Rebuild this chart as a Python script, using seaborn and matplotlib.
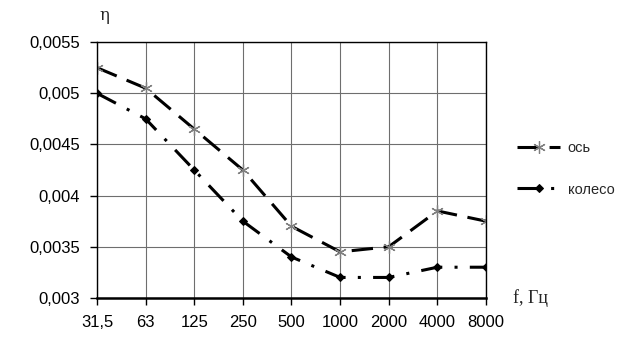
import numpy as np
import pandas as pd
import matplotlib
matplotlib.use("Agg")
import matplotlib.pyplot as plt
import seaborn as sns

# --- данные ---
freqs = ['31,5', '63', '125', '250', '500', '1000', '2000', '4000', '8000']
os_vals = [0.00525, 0.00505, 0.00465, 0.00425, 0.0037, 0.00345, 0.0035, 0.00385, 0.00375]
koleso_vals = [0.005, 0.00475, 0.00425, 0.00375, 0.0034, 0.0032, 0.0032, 0.0033, 0.0033]
y_ticks = [0.003, 0.0035, 0.004, 0.0045, 0.005, 0.0055]
y_labels = ['0,003', '0,0035', '0,004', '0,0045', '0,005', '0,0055']

sns.set_theme(style="white")
plt.rcParams['font.family'] = ['Liberation Sans', 'DejaVu Sans']

fig = plt.figure(figsize=(6.31, 3.37), dpi=100)
ax = fig.add_axes([0.1537, 0.116, 0.6165, 0.759])

pos = np.arange(len(freqs))
# звёздочка как в Excel: шесть лучей
sns.lineplot(x=pos, y=os_vals, ax=ax, color='black', lw=2.2,
             linestyle=(0, (7, 3.5)), marker=(6, 2, 0), markersize=9,
             markeredgecolor='#808080', markeredgewidth=0.9, label='ось')
sns.lineplot(x=pos, y=koleso_vals, ax=ax, color='black', lw=2.2,
             linestyle=(0, (7, 4, 1, 4)), marker='D', markersize=4.5,
             markeredgecolor='black', label='колесо')

ax.set_xlim(0, len(freqs) - 1)
ax.set_ylim(0.003, 0.0055)
ax.set_xticks(pos)
ax.set_xticklabels(freqs)
ax.set_yticks(y_ticks)
ax.set_yticklabels(y_labels)
ax.grid(True, color='#6e6e6e', lw=0.8)
for s in ax.spines.values():
    s.set_color('black')
    s.set_linewidth(1.0)
ax.spines['bottom'].set_linewidth(1.8)
ax.tick_params(axis='y', direction='out', length=5, width=1, color='black',
               labelsize=12, labelcolor='black', left=True, pad=7)
ax.tick_params(axis='x', direction='out', length=5, width=1, color='black',
               labelsize=12, labelcolor='black', bottom=True, pad=7)

fig.text(0.166, 0.955, 'η', fontsize=12, family='DejaVu Serif', ha='center', va='center')
fig.text(0.813, 0.115, 'f, Гц', fontsize=13, family='Liberation Serif', ha='left', va='center')

ax.legend(loc='center left', bbox_to_anchor=(1.045, 0.505), frameon=False,
          handlelength=3.0, fontsize=10.5, labelspacing=1.9, handletextpad=0.5)

fig.savefig('out.png', dpi=100)
